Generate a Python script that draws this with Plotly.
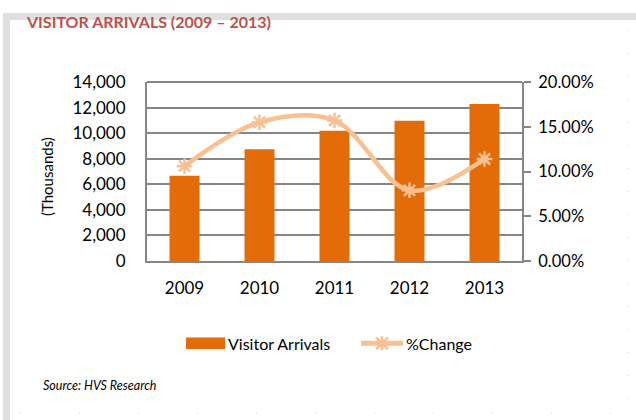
import plotly.graph_objects as go

# Visitor arrivals (thousands) and year-on-year change (%)
years = ["2009", "2010", "2011", "2012", "2013"]
arrivals = [6660, 8750, 10180, 10970, 12280]
pct_change = [10.6, 15.5, 15.7, 7.9, 11.4]

left_ticks = [0, 2000, 4000, 6000, 8000, 10000, 12000, 14000]
left_labels = ["0", "2,000", "4,000", "6,000", "8,000", "10,000", "12,000", "14,000"]
right_ticks = [0, 5, 10, 15, 20]
right_labels = ["0.00%", "5.00%", "10.00%", "15.00%", "20.00%"]

BAR = "#E36C09"
LINE = "#FAC090"
GRID = "#868686"
FRAME = "#E0E0E0"
FONT = "Lato, 'Open Sans', sans-serif"

W, H = 636, 420
L, R, T, B = 147, 114, 82, 159
PW, PH = W - L - R, H - T - B


def px(x):
    """Horizontal pixel position -> paper coordinate."""
    return (x - L) / PW


def py(y):
    """Vertical pixel position (from top) -> paper coordinate."""
    return (H - B - y) / PH


fig = go.Figure()
fig.add_trace(go.Bar(
    x=years, y=arrivals, name="Visitor Arrivals",
    marker=dict(color=BAR, line=dict(width=0)),
))
fig.add_trace(go.Scatter(
    x=years, y=pct_change, name="%Change", yaxis="y2",
    mode="lines+markers",
    line=dict(color=LINE, width=4.5, shape="spline", smoothing=1.0),
    marker=dict(symbol="asterisk-open", size=13, color=LINE,
                line=dict(color=LINE, width=2.5)),
))

# hand-built legend row
leg_y = 343.3
star_cx, star_r = 382, 6
star_path = (
    f"M{px(star_cx - star_r)},{py(leg_y - star_r)} L{px(star_cx + star_r)},{py(leg_y + star_r)} "
    f"M{px(star_cx - star_r)},{py(leg_y + star_r)} L{px(star_cx + star_r)},{py(leg_y - star_r)} "
    f"M{px(star_cx)},{py(leg_y - star_r - 1)} L{px(star_cx)},{py(leg_y + star_r + 1)}"
)

shapes = [
    # light frame strips along the top and left edge of the panel
    dict(type="rect", xref="paper", yref="paper",
         x0=px(3), x1=px(10), y0=py(H), y1=py(13),
         fillcolor=FRAME, line=dict(width=0), layer="below"),
    dict(type="rect", xref="paper", yref="paper",
         x0=px(3), x1=px(W), y0=py(20), y1=py(13),
         fillcolor=FRAME, line=dict(width=0), layer="below"),
    # faint dotted guides on the right and bottom
    dict(type="line", xref="paper", yref="paper",
         x0=px(627.5), x1=px(627.5), y0=py(30), y1=py(413),
         line=dict(color="#D4D4D4", width=1, dash="1px,22px"), layer="below"),
    dict(type="line", xref="paper", yref="paper",
         x0=px(20), x1=px(627), y0=py(413), y1=py(413),
         line=dict(color="#D4D4D4", width=1, dash="1px,58px"), layer="below"),
    # plot border (top edge)
    dict(type="line", xref="paper", yref="paper", x0=0, x1=1, y0=1, y1=1,
         line=dict(color=GRID, width=2)),
    # legend swatches
    dict(type="rect", xref="paper", yref="paper",
         x0=px(186), x1=px(225), y0=py(349), y1=py(337.5),
         fillcolor=BAR, line=dict(width=0)),
    dict(type="line", xref="paper", yref="paper",
         x0=px(361), x1=px(403), y0=py(leg_y), y1=py(leg_y),
         line=dict(color=LINE, width=5)),
    dict(type="path", xref="paper", yref="paper", path=star_path,
         line=dict(color=LINE, width=2.5)),
]

annotations = [
    dict(text="<b>VISITOR ARRIVALS (2009 – 2013)</b>",
         xref="paper", yref="paper", x=px(24), y=py(21),
         xanchor="left", yanchor="middle", showarrow=False,
         font=dict(size=16, color="#C0504D", family=FONT)),
    dict(text="<i>Source: HVS Research</i>",
         xref="paper", yref="paper", x=px(41), y=py(385),
         xanchor="left", yanchor="middle", showarrow=False,
         font=dict(size=12.5, color="#000000", family=FONT)),
    dict(text="Visitor Arrivals",
         xref="paper", yref="paper", x=px(226), y=py(leg_y),
         xanchor="left", yanchor="middle", showarrow=False,
         font=dict(size=16, color="#000000", family=FONT)),
    dict(text="%Change",
         xref="paper", yref="paper", x=px(404), y=py(leg_y),
         xanchor="left", yanchor="middle", showarrow=False,
         font=dict(size=16, color="#000000", family=FONT)),
    dict(text="(Thousands)", textangle=-90,
         xref="paper", yref="paper", x=px(47), y=py(177),
         xanchor="center", yanchor="middle", showarrow=False,
         font=dict(size=15, color="#000000", family=FONT)),
]

fig.update_layout(
    width=W, height=H,
    margin=dict(l=L, r=R, t=T, b=B, pad=0),
    paper_bgcolor="white", plot_bgcolor="white",
    font=dict(family=FONT, size=17, color="#000000"),
    bargap=0.6,
    showlegend=False,
    xaxis=dict(
        type="category", showgrid=False, showline=True,
        linecolor=GRID, linewidth=2, ticks="",
        tickfont=dict(size=17), ticklabelstandoff=11,
    ),
    yaxis=dict(
        range=[0, 14000], tickvals=left_ticks, ticktext=left_labels,
        showgrid=True, gridcolor=GRID, gridwidth=2,
        showline=True, linecolor=GRID, linewidth=2, ticks="",
        zeroline=False, tickfont=dict(size=17), ticklabelstandoff=16,
    ),
    yaxis2=dict(
        overlaying="y", side="right", range=[0, 20],
        tickvals=right_ticks, ticktext=right_labels,
        showgrid=False, showline=True, linecolor=GRID, linewidth=2,
        ticks="outside", ticklen=7, tickwidth=2, tickcolor=GRID,
        zeroline=False, tickfont=dict(size=16.5), ticklabelstandoff=4,
    ),
    shapes=shapes,
    annotations=annotations,
)

fig.write_html("out.html")
